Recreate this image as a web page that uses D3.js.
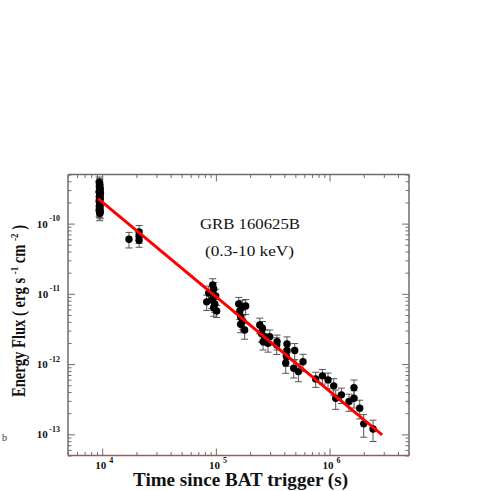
<!DOCTYPE html>
<html><head><meta charset="utf-8">
<script src="https://cdn.jsdelivr.net/npm/d3@7"></script>
<style>html,body{margin:0;padding:0;background:#fff;}svg{display:block;}</style>
</head><body>
<svg id="c" width="491" height="491"></svg>
<script>
// ---- data ----
const time = [
  9400, 9500, 9450, 9550, 9600, 9500, 9400, 9650, 9500, 9550, 9450, 9600, 9500, 9400, 9550, 9500, 9600, 9450, 9500, 9550, 9400, 9500, 9600, 9500, 9450,
  17200, 21100, 21100, 21100,
  83000, 86500, 93800, 95700, 95700, 97700, 101600, 99600, 91900, 95700,
  158900, 172100, 162200, 165300, 172100, 165300, 179100, 182800,
  243200, 256700, 251500, 269000, 259900, 297700, 287600, 345100, 343000, 422600, 422600, 417500, 411500, 493800, 483900, 532100, 584200,
  755400, 865400, 969400, 1088000, 1133000, 1272000, 1483000, 1641000, 1641000, 1843000, 1998000, 2413000
];
const flux = [
  3.9e-10, 3.7e-10, 3.5e-10, 3.3e-10, 3.1e-10, 3.0e-10, 2.85e-10, 2.7e-10, 2.6e-10, 2.5e-10, 2.4e-10, 2.3e-10, 2.2e-10, 2.1e-10, 2.0e-10, 1.95e-10, 1.85e-10, 1.75e-10, 1.65e-10, 1.6e-10, 1.55e-10, 1.5e-10, 1.45e-10, 1.4e-10, 2.8e-10,
  6.0e-11, 7.6e-11, 5.8e-11, 6.6e-11,
  7.7e-12, 1.03e-11, 1.34e-11, 1.17e-11, 9.0e-12, 7.2e-12, 5.7e-12, 9.3e-12, 8.2e-12, 6.3e-12,
  7.2e-12, 6.5e-12, 5.7e-12, 4.7e-12, 4.1e-12, 3.7e-12, 3.06e-12, 6.7e-12,
  3.61e-12, 3.24e-12, 2.75e-12, 2.46e-12, 2.09e-12, 2.46e-12, 1.98e-12, 2.09e-12, 1.87e-12, 1.94e-12, 1.56e-12, 1.28e-12, 1.04e-12, 1.56e-12, 8.74e-13, 7.82e-13, 1.08e-12,
  6.16e-13, 6.80e-13, 5.96e-13, 4.90e-13, 3.27e-13, 3.65e-13, 2.93e-13, 4.63e-13, 3.27e-13, 2.36e-13, 1.41e-13, 1.19e-13
];
const fluxErr = [
  0.7e-10, 0.65e-10, 0.6e-10, 0.55e-10, 0.5e-10, 0.5e-10, 0.45e-10, 0.45e-10, 0.4e-10, 0.4e-10, 0.4e-10, 0.35e-10, 0.35e-10, 0.35e-10, 0.3e-10, 0.3e-10, 0.3e-10, 0.3e-10, 0.28e-10, 0.28e-10, 0.28e-10, 0.28e-10, 0.28e-10, 0.3e-10, 0.45e-10,
  1.5e-11, 1.8e-11, 1.2e-11, 1.4e-11,
  1.9e-12, 2.6e-12, 3.0e-12, 2.8e-12, 2.2e-12, 1.8e-12, 1.1e-12, 2.3e-12, 2.0e-12, 1.5e-12,
  1.7e-12, 1.6e-12, 1.4e-12, 1.2e-12, 1.0e-12, 0.9e-12, 0.8e-12, 1.6e-12,
  0.9e-12, 0.8e-12, 0.7e-12, 0.6e-12, 0.5e-12, 0.6e-12, 0.5e-12, 0.5e-12, 0.5e-12, 0.5e-12, 0.4e-12, 0.35e-12, 0.3e-12, 0.4e-12, 2.4e-13, 2.2e-13, 3.0e-13,
  1.5e-13, 1.6e-13, 1.5e-13, 1.3e-13, 1.0e-13, 0.9e-13, 0.8e-13, 1.3e-13, 0.9e-13, 0.7e-13, 0.5e-13, 0.4e-13
];
// power-law fit, endpoints
const fitTime = [9200, 2.9e6];
const fitFlux = [2.27e-10, 9.8e-14];
// axis tick labels
const xMajor = [1e4, 1e5, 1e6];
const xExp = ["4", "5", "6"];
const yMajor = [1e-10, 1e-11, 1e-12, 1e-13];
const yExp = ["-10", "-11", "-12", "-13"];
const title1 = "GRB 160625B";
const title2 = "(0.3-10 keV)";

// ---- drawing ----
const svg = d3.select("#c");
const L = 68, R = 409, T = 174.5, B = 455.5;
const x = d3.scaleLog().domain([5e3, 5e6]).range([L, R]);
const y = d3.scaleLog().domain([5e-14, 5e-10]).range([B, T]);
const axisCol = "#6e6e6e";
const serif = "'Liberation Serif','Times New Roman',serif";

const xMinor = x.ticks().filter(v => !xMajor.some(m => Math.abs(m - v) / m < 1e-6));
const yMinor = y.ticks().filter(v => !yMajor.some(m => Math.abs(m - v) / m < 1e-6));

function styleAxis(g) {
  g.select(".domain").remove();
  g.selectAll("line").attr("stroke", axisCol).attr("stroke-width", 1);
  g.selectAll("text").remove();
}
svg.append("g").attr("transform", `translate(0,${B})`).call(d3.axisBottom(x).tickValues(xMajor).tickSize(-7).tickFormat("")).call(styleAxis);
svg.append("g").attr("transform", `translate(0,${B})`).call(d3.axisBottom(x).tickValues(xMinor).tickSize(-3.5).tickFormat("")).call(styleAxis);
svg.append("g").attr("transform", `translate(0,${T})`).call(d3.axisTop(x).tickValues(xMajor).tickSize(-7).tickFormat("")).call(styleAxis);
svg.append("g").attr("transform", `translate(0,${T})`).call(d3.axisTop(x).tickValues(xMinor).tickSize(-3.5).tickFormat("")).call(styleAxis);
svg.append("g").attr("transform", `translate(${L},0)`).call(d3.axisLeft(y).tickValues(yMajor).tickSize(-7).tickFormat("")).call(styleAxis);
svg.append("g").attr("transform", `translate(${L},0)`).call(d3.axisLeft(y).tickValues(yMinor).tickSize(-3.5).tickFormat("")).call(styleAxis);
svg.append("g").attr("transform", `translate(${R},0)`).call(d3.axisRight(y).tickValues(yMajor).tickSize(-7).tickFormat("")).call(styleAxis);
svg.append("g").attr("transform", `translate(${R},0)`).call(d3.axisRight(y).tickValues(yMinor).tickSize(-3.5).tickFormat("")).call(styleAxis);

// frame
svg.append("line").attr("x1", L).attr("x2", R).attr("y1", T).attr("y2", T).attr("stroke", axisCol).attr("stroke-width", 1.5);
svg.append("line").attr("x1", L).attr("x2", L).attr("y1", T).attr("y2", B).attr("stroke", axisCol).attr("stroke-width", 1.5);
svg.append("line").attr("x1", R).attr("x2", R).attr("y1", T).attr("y2", B).attr("stroke", axisCol).attr("stroke-width", 1.5);
svg.append("line").attr("x1", L).attr("x2", R).attr("y1", B).attr("y2", B).attr("stroke", "#8a6262").attr("stroke-width", 1.5);

// tick labels
xMajor.forEach((v, i) => {
  const t = svg.append("text").attr("x", x(v) + 2).attr("y", B + 13)
    .attr("text-anchor", "middle").attr("font-family", serif).attr("font-weight", "bold").attr("font-size", 11).attr("fill", "#111");
  t.append("tspan").text("10");
  t.append("tspan").attr("dx", 3).attr("dy", -6).attr("font-size", 8).text(xExp[i]);
});
yMajor.forEach((v, i) => {
  const t = svg.append("text").attr("x", 60).attr("y", y(v) + 4)
    .attr("text-anchor", "end").attr("font-family", serif).attr("font-weight", "bold").attr("font-size", 11).attr("fill", "#111");
  t.append("tspan").text("10");
  t.append("tspan").attr("dx", 1.5).attr("dy", -6.5).attr("font-size", 8).text(yExp[i]);
});

// error bars
const pts = time.map((t, i) => ({t, f: flux[i], e: fluxErr[i]}));
const eb = svg.append("g").attr("stroke", "#555").attr("stroke-width", 1).attr("fill", "none");
pts.forEach(p => {
  const cx = x(p.t), y1 = y(p.f + p.e), y0 = y(Math.max(p.f - p.e, 1e-15));
  eb.append("line").attr("x1", cx).attr("x2", cx).attr("y1", y1).attr("y2", y0);
  eb.append("line").attr("x1", cx - 3.5).attr("x2", cx + 3.5).attr("y1", y1).attr("y2", y1);
  eb.append("line").attr("x1", cx - 3.5).attr("x2", cx + 3.5).attr("y1", y0).attr("y2", y0);
});
// points
svg.append("g").selectAll("circle").data(pts).join("circle")
  .attr("cx", d => x(d.t)).attr("cy", d => y(d.f)).attr("r", 3.7).attr("fill", "#000");

// fit line
svg.append("path").datum(fitTime.map((t, i) => [t, fitFlux[i]]))
  .attr("d", d3.line().x(d => x(d[0])).y(d => y(d[1])))
  .attr("stroke", "#ff0000").attr("stroke-width", 3).attr("fill", "none");

// annotations
svg.append("text").attr("x", 200).attr("y", 229).attr("font-family", serif).attr("font-size", 15)
  .attr("textLength", 100).attr("lengthAdjust", "spacingAndGlyphs").attr("fill", "#111").text(title1);
svg.append("text").attr("x", 205).attr("y", 256).attr("font-family", serif).attr("font-size", 15)
  .attr("textLength", 89).attr("lengthAdjust", "spacingAndGlyphs").attr("fill", "#111").text(title2);

// axis titles
svg.append("text").attr("x", 133).attr("y", 486)
  .attr("font-family", serif).attr("font-weight", "bold").attr("font-size", 18).attr("fill", "#111")
  .attr("textLength", 215).attr("lengthAdjust", "spacingAndGlyphs")
  .text("Time since BAT trigger (s)");
const yt = svg.append("text").attr("transform", "translate(25,397) rotate(-90)")
  .attr("font-family", serif).attr("font-weight", "bold").attr("font-size", 18).attr("fill", "#111")
  .attr("textLength", 172).attr("lengthAdjust", "spacingAndGlyphs");
yt.append("tspan").text("Energy Flux ( erg s ");
yt.append("tspan").attr("dy", -7).attr("font-size", 11).text("-1");
yt.append("tspan").attr("dy", 7).text(" cm ");
yt.append("tspan").attr("dy", -7).attr("font-size", 11).text("-2");
yt.append("tspan").attr("dy", 7).text(" )");

// stray glyph at left edge
svg.append("text").attr("x", 2).attr("y", 441).attr("font-family", serif).attr("font-size", 10).attr("fill", "#333").text("b");
</script>
</body></html>
